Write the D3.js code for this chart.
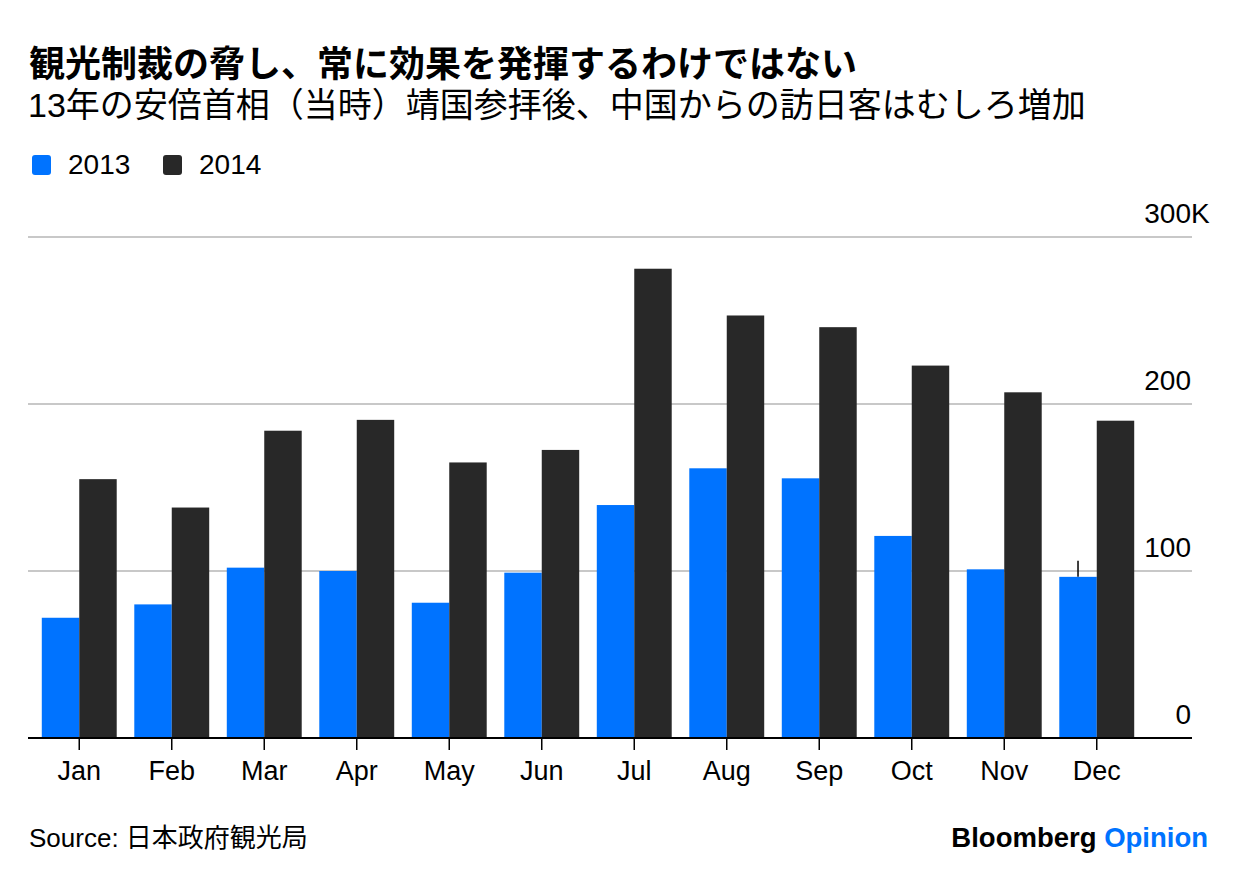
<!DOCTYPE html>
<html>
<head>
<meta charset="utf-8">
<script src="https://cdn.jsdelivr.net/npm/d3@7"></script>
<style>
  body { margin: 0; background: #fff; }
  svg text { font-family: "Liberation Sans", Arial, "Noto Sans CJK JP", sans-serif; fill: #000; }
</style>
</head>
<body>
<svg width="1237" height="882"></svg>
<script>
const width = 1237;
const height = 882;

// visitors from China, thousands
const months = ['Jan','Feb','Mar','Apr','May','Jun','Jul','Aug','Sep','Oct','Nov','Dec'];
const visitors2013 = [72, 80, 102, 100, 81, 99, 139.5, 161.5, 155.5, 121, 101, 96.5];
const visitors2014 = [155, 138, 184, 190.5, 165, 172.5, 281, 253, 246, 223, 207, 190];
const yTicks = [0, 100, 200, 300];
const series = ['2013', '2014'];

const colors = d3.scaleOrdinal()
  .domain(series)
  .range(['#0073ff', '#282828']);

const svg = d3.select('svg')
  .attr('width', width)
  .attr('height', height);

// title block
svg.append('text')
  .attr('x', 29).attr('y', 77)
  .style('font-size', '36px')
  .style('font-weight', 'bold')
  .text('観光制裁の脅し、常に効果を発揮するわけではない');

svg.append('text')
  .attr('x', 28).attr('y', 117)
  .style('font-size', '34px')
  .text('13年の安倍首相（当時）靖国参拝後、中国からの訪日客はむしろ増加');

// legend
const legend = svg.append('g')
  .attr('transform', 'translate(32, 155)');

const legendX = d3.scaleOrdinal().domain(series).range([0, 131]);

const item = legend.selectAll('g')
  .data(series)
  .enter()
  .append('g')
    .attr('transform', d => `translate(${legendX(d)}, 0)`);

item.append('rect')
  .attr('width', 19).attr('height', 20)
  .attr('rx', 3)
  .attr('fill', d => colors(d));

item.append('text')
  .attr('x', 36).attr('y', 19)
  .style('font-size', '28px')
  .text(d => d);

// chart
const x = d3.scaleBand()
  .domain(months)
  .range([33, 1143])
  .paddingInner(0.19)
  .paddingOuter(0.095);

const xInner = d3.scaleBand()
  .domain(series)
  .range([0, x.bandwidth()]);

const y = d3.scaleLinear()
  .domain([0, 300])
  .range([738, 237]);

const grid = svg.append('g').classed('grid', true);

grid.selectAll('line')
  .data(yTicks.filter(d => d > 0))
  .enter()
  .append('line')
    .attr('x1', 28).attr('x2', 1192)
    .attr('y1', d => y(d)).attr('y2', d => y(d))
    .attr('stroke', '#c8c8c8')
    .attr('stroke-width', 2);

const tickLabel = grid.selectAll('g')
  .data(yTicks)
  .enter()
  .append('g')
    .attr('transform', d => `translate(1191, ${y(d) - 14})`)
    .style('font-size', '28px');

tickLabel.append('text')
  .attr('text-anchor', 'end')
  .text(d => d);

// the unit hangs to the right of the top number
tickLabel.filter(d => d === d3.max(yTicks))
  .append('text')
    .text('K');

const rows = months.map((m, i) => ({
  month: m,
  values: [
    {key: '2013', value: visitors2013[i]},
    {key: '2014', value: visitors2014[i]}
  ]
}));

const groups = svg.append('g')
  .classed('chart', true)
  .selectAll('g')
  .data(rows)
  .enter()
  .append('g')
    .attr('transform', d => `translate(${x(d.month)}, 0)`);

groups.selectAll('rect')
  .data(d => d.values)
  .enter()
  .append('rect')
    .attr('x', d => xInner(d.key))
    .attr('width', xInner.bandwidth())
    .attr('y', d => y(d.value))
    .attr('height', d => y(0) - y(d.value))
    .attr('fill', d => colors(d.key));

// x axis
const xAxis = svg.append('g')
  .attr('transform', `translate(0, ${y(0)})`);

xAxis.append('line')
  .attr('x1', 28).attr('x2', 1192)
  .attr('stroke', '#000')
  .attr('stroke-width', 2);

xAxis.selectAll('.tick')
  .data(months)
  .enter()
  .append('line')
    .classed('tick', true)
    .attr('x1', d => x(d) + x.bandwidth() / 2)
    .attr('x2', d => x(d) + x.bandwidth() / 2)
    .attr('y1', 0).attr('y2', 12)
    .attr('stroke', '#000')
    .attr('stroke-width', 1.5);

xAxis.selectAll('.label')
  .data(months)
  .enter()
  .append('text')
    .classed('label', true)
    .attr('x', d => x(d) + x.bandwidth() / 2)
    .attr('y', 42)
    .attr('text-anchor', 'middle')
    .style('font-size', '27px')
    .text(d => d);

// small marker above the Dec 2013 bar
svg.append('line')
  .attr('x1', x('Dec') + xInner('2013') + xInner.bandwidth() / 2)
  .attr('x2', x('Dec') + xInner('2013') + xInner.bandwidth() / 2)
  .attr('y1', y(visitors2013[11]) - 16)
  .attr('y2', y(visitors2013[11]))
  .attr('stroke', '#000')
  .attr('stroke-width', 1.5);

// footer
svg.append('text')
  .attr('x', 29).attr('y', 847)
  .style('font-size', '26px')
  .text('Source: 日本政府観光局');

const brand = svg.append('text')
  .attr('x', 1208).attr('y', 847)
  .attr('text-anchor', 'end')
  .style('font-size', '27.5px')
  .style('font-weight', 'bold');

brand.append('tspan').text('Bloomberg ');
brand.append('tspan').style('fill', '#0073ff').text('Opinion');
</script>
</body>
</html>
